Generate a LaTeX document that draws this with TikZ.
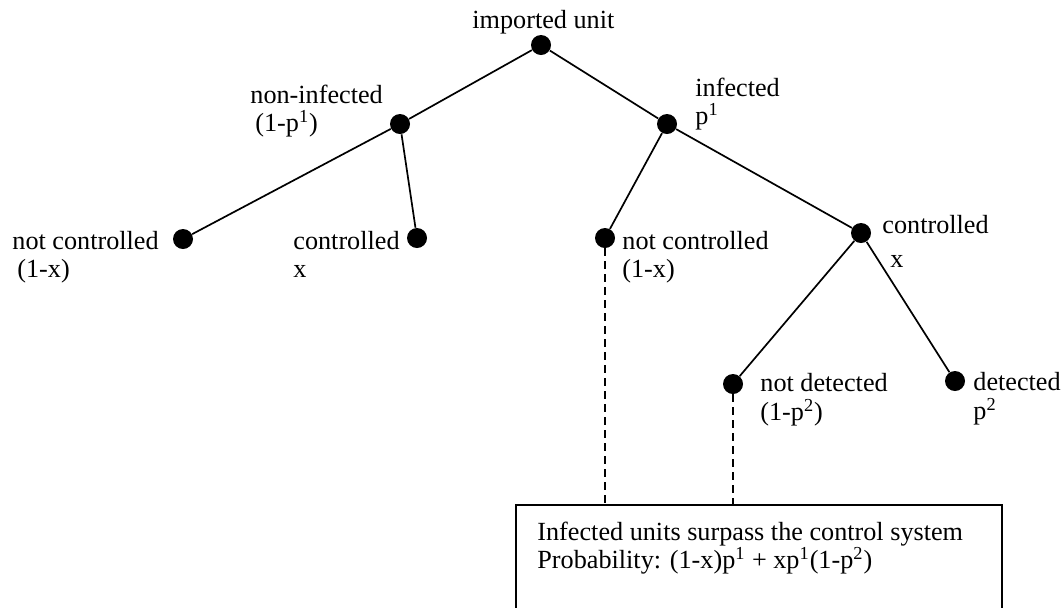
\documentclass[tikz,border=0pt]{standalone}
\usepackage{fontspec}
\setmainfont{Liberation Serif}
\begin{document}
\begin{tikzpicture}[x=0.5pt,y=-0.5pt,
  every node/.style={font=\fontsize{13.1}{14.5}\selectfont},
  dot/.style={circle,fill=black,draw=none,minimum size=10pt,inner sep=0pt},
  lbl/.style={anchor=base west,inner sep=0pt},
  edge/.style={line width=0.85pt},
  guide/.style={line width=0.85pt,dash pattern=on 4pt off 2.5pt},
  resultbox/.style={draw,line width=0.85pt,minimum width=243pt,minimum height=67.5pt,inner sep=0pt}]
\useasboundingbox (0,0) rectangle (1063,607);
\clip (0,0) rectangle (1063,607);
% dots
\node[dot] (root) at (541,45) {};
\node[dot] (ninf) at (400,124) {};
\node[dot] (inf)  at (667,124) {};
\node[dot] (ncL)  at (183,239) {};
\node[dot] (cL)   at (417,238) {};
\node[dot] (ncR)  at (605,238) {};
\node[dot] (cR)   at (861,233) {};
\node[dot] (nd)   at (733,384) {};
\node[dot] (det)  at (955,381) {};
% tree edges
\draw[edge] (root) -- (ninf);
\draw[edge] (root) -- (inf);
\draw[edge] (ninf) -- (ncL);
\draw[edge] (ninf) -- (cL);
\draw[edge] (inf) -- (ncR);
\draw[edge] (inf) -- (cR);
\draw[edge] (cR) -- (nd);
\draw[edge] (cR) -- (det);
% result box
\node[resultbox] (box) at (759,572.5) {};
\draw[guide] (ncR) -- (ncR |- box.north);
\draw[guide] (nd) -- (nd |- box.north);
% labels
\node[lbl] (t1) at (472,28) {imported unit};
\node[lbl] (t2) at (250,103) {non-infected};
\node[lbl] (t3) at (255,131) {(1-p\textsuperscript{1})};
\node[lbl] (t4) at (695,96) {infected};
\node[lbl] (t5) at (695,124) {p\textsuperscript{1}};
\node[lbl] (t6) at (12,249) {not controlled};
\node[lbl] (t7) at (17,277) {(1-x)};
\node[lbl] (t8) at (293,249) {controlled};
\node[lbl] (t9) at (293,277) {x};
\node[lbl] (t10) at (622,249) {not controlled};
\node[lbl] (t11) at (622,277) {(1-x)};
\node[lbl] (t12) at (882,233) {controlled};
\node[lbl] (t13) at (890,267) {x};
\node[lbl] (t14) at (760,391) {not detected};
\node[lbl] (t15) at (760,420) {(1-p\textsuperscript{2})};
\node[lbl] (t16) at (973,390) {detected};
\node[lbl] (t17) at (973,419) {p\textsuperscript{2}};
\node[lbl] (t18) at (537,540) {Infected units surpass the control system};
\node[lbl] (t19) at (537,568) {Probability: (1-x)p\textsuperscript{1} + xp\textsuperscript{1}(1-p\textsuperscript{2})};
\end{tikzpicture}
\end{document}
